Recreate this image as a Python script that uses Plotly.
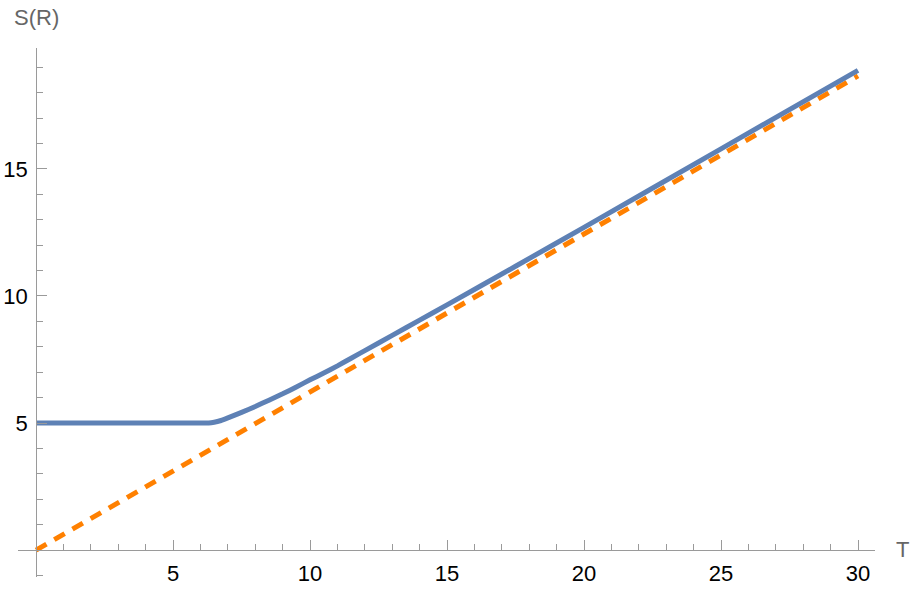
import plotly.graph_objects as go

# Data
T_blue = [0, 6.3, 6.5, 6.75, 7, 7.5, 8, 8.5, 9, 9.5, 10, 10.5, 11, 11.5, 12, 13, 14, 15, 17.5, 20, 25, 30]
S_blue = [5, 5, 5.03, 5.1, 5.2, 5.42, 5.65, 5.9, 6.15, 6.42, 6.7, 6.97, 7.25, 7.55, 7.85, 8.45, 9.05, 9.65, 11.17, 12.7, 15.79, 18.88]
T_orange = [0, 30]
S_orange = [0, 18.66]
x_ticks = [5, 10, 15, 20, 25, 30]
y_ticks = [5, 10, 15]

L, R, TOP, BOT = 18, 38, 48, 17
W, H = 913, 594
xr = [-0.66, 30.62]
yr = [-1.06, 19.76]
pw, ph = W - L - R, H - TOP - BOT

fig = go.Figure()
fig.add_trace(go.Scatter(x=T_orange, y=S_orange, mode="lines",
                         line=dict(color="#FF8000", width=5, dash="12px,9px"),
                         hoverinfo="skip"))
fig.add_trace(go.Scatter(x=T_blue, y=S_blue, mode="lines",
                         line=dict(color="#5E81B5", width=5, shape="spline", smoothing=0.3),
                         hoverinfo="skip"))

xpos = (0 - yr[0]) / (yr[1] - yr[0])
ypos = (0 - xr[0]) / (xr[1] - xr[0])

axis_common = dict(showgrid=False, zeroline=False, showline=True, linecolor="#9a9a9a",
                   linewidth=1, ticks="inside", ticklen=10, tickcolor="#9a9a9a", tickwidth=1,
                   tickfont=dict(family="Liberation Sans, Arial", size=22, color="black"),
                   fixedrange=True, automargin=False)
fig.update_layout(
    width=W, height=H, margin=dict(l=L, r=R, t=TOP, b=BOT, autoexpand=False),
    plot_bgcolor="white", paper_bgcolor="white", showlegend=False,
    xaxis=dict(range=xr, tickmode="array", tickvals=x_ticks, anchor="free", position=xpos,
               minor=dict(dtick=1, tick0=0, ticklen=6, tickcolor="#9a9a9a", ticks="inside"),
               ticklabelstandoff=4, **axis_common),
    yaxis=dict(range=yr, tickmode="array", tickvals=y_ticks, anchor="free", position=ypos,
               minor=dict(dtick=1, tick0=0, ticklen=6, tickcolor="#9a9a9a", ticks="inside"),
               ticklabelstandoff=4, **axis_common),
)

def px2paper(x, y):
    return (x - L) / pw, (H - BOT - y) / ph

ax, ay = px2paper(903, 549)
fig.add_annotation(x=ax, y=ay, xref="paper", yref="paper", text="T", showarrow=False,
                   xanchor="center", yanchor="middle",
                   font=dict(family="Liberation Sans, Arial", size=22, color="#666666"))
sx, sy = px2paper(36, 17)
fig.add_annotation(x=sx, y=sy, xref="paper", yref="paper", text="S(R)", showarrow=False,
                   xanchor="center", yanchor="middle",
                   font=dict(family="Liberation Sans, Arial", size=22, color="#666666"))

fig.write_html("out.html", config={"displayModeBar": False},
               post_script="document.body.style.margin='0';document.body.style.overflow='hidden';")
